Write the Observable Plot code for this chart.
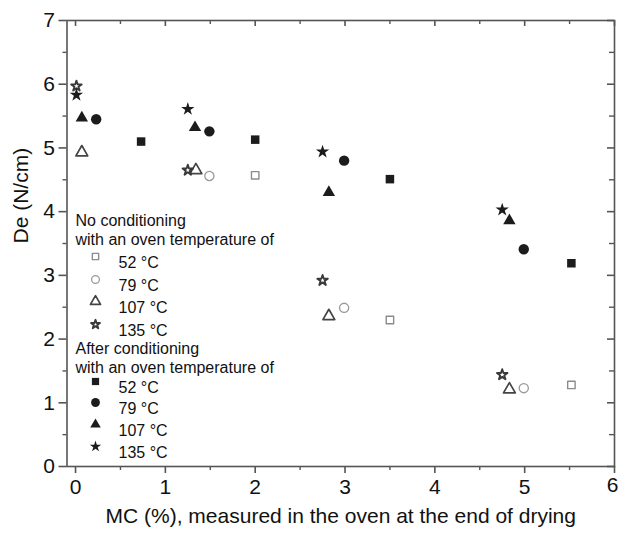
<!DOCTYPE html>
<html>
<head>
<meta charset="utf-8">
<script src="https://cdn.jsdelivr.net/npm/d3@7"></script>
<script src="https://cdn.jsdelivr.net/npm/@observablehq/plot@0.6"></script>
<style>
  html, body { margin: 0; padding: 0; background: #fff; }
  #chart svg { display: block; }
</style>
</head>
<body>
<div id="chart"></div>
<script>
// ---- Data ----
const temperatures = ["52 °C", "79 °C", "107 °C", "135 °C"];

// No conditioning (open markers)
const mcNo52 = [2.00, 3.50, 5.52];        const deNo52 = [4.57, 2.30, 1.28];
const mcNo79 = [1.49, 2.99, 4.99];        const deNo79 = [4.56, 2.49, 1.23];
const mcNo107 = [0.07, 1.34, 2.82, 4.83]; const deNo107 = [4.93, 4.65, 2.36, 1.21];
const mcNo135 = [0.01, 1.25, 2.75, 4.75]; const deNo135 = [5.97, 4.65, 2.92, 1.44];

// After conditioning (filled markers)
const mcAf52 = [0.73, 2.00, 3.50, 5.52];  const deAf52 = [5.10, 5.13, 4.51, 3.19];
const mcAf79 = [0.23, 1.49, 2.99, 4.99];  const deAf79 = [5.45, 5.26, 4.80, 3.41];
const mcAf107 = [0.07, 1.33, 2.82, 4.83]; const deAf107 = [5.47, 5.32, 4.30, 3.86];
const mcAf135 = [0.01, 1.25, 2.75, 4.75]; const deAf135 = [5.83, 5.61, 4.94, 4.03];

const xTicks = [0, 1, 2, 3, 4, 5, 6];
const xMinor = [0.5, 1.5, 2.5, 3.5, 4.5, 5.5];
const yTicks = [0, 1, 2, 3, 4, 5, 6, 7];
const yMinor = [0.5, 1.5, 2.5, 3.5, 4.5, 5.5, 6.5];

const xLabel = "MC (%), measured in the oven at the end of drying";
const yLabel = "De (N/cm)";
const legendHeadA = ["No conditioning", "with an oven temperature of"];
const legendHeadB = ["After conditioning", "with an oven temperature of"];

// ---- Build series ----
const zip = (xs, ys) => xs.map((x, i) => ({x, y: ys[i]}));
const openSeries = [zip(mcNo52, deNo52), zip(mcNo79, deNo79), zip(mcNo107, deNo107), zip(mcNo135, deNo135)];
const filledSeries = [zip(mcAf52, deAf52), zip(mcAf79, deAf79), zip(mcAf107, deAf107), zip(mcAf135, deAf135)];

// ---- Styles ----
const symbols = ["square", "circle", "triangle", "star"];
const openStyle = [
  {stroke: "#8c8c8c", r: 4.2, strokeWidth: 1.4},
  {stroke: "#9a9a9a", r: 4.6, strokeWidth: 1.3},
  {stroke: "#444", r: 4.4, strokeWidth: 1.7},
  {stroke: "#3a3a3a", r: 3.3, strokeWidth: 1.9}
];
const filledStyle = [
  {r: 4.8}, {r: 5.2}, {r: 4.6}, {r: 4.2}
];
const ink = "#1c1c1c";
const axisInk = "#555";

const W = 618, H = 534;
const mL = 66.5, mR = 4, mT = 20, mB = 68;
const plotW = W - mL - mR, plotH = H - mT - mB;

const marks = [];

// frame
marks.push(Plot.frame({stroke: axisInk, strokeWidth: 1.6}));

// mirror (inward) ticks on top and right
marks.push(Plot.ruleX(xTicks, {x: d => d, insetBottom: plotH - 6, stroke: axisInk, strokeWidth: 1.6}));
marks.push(Plot.ruleX(xMinor, {x: d => d, insetBottom: plotH - 4, stroke: axisInk, strokeWidth: 1.4}));
marks.push(Plot.ruleY(yTicks, {y: d => d, insetLeft: plotW - 7, stroke: axisInk, strokeWidth: 1.6}));
marks.push(Plot.ruleY(yMinor, {y: d => d, insetLeft: plotW - 5, stroke: axisInk, strokeWidth: 1.4}));

// bottom axis (last label drawn separately so it stays inside the picture)
const lastX = xTicks[xTicks.length - 1];
marks.push(Plot.axisX({ticks: xTicks, tickSize: 7, tickPadding: 6, fontSize: 21, stroke: axisInk, strokeWidth: 1.6,
  tickFormat: d => d === lastX ? "" : String(d), label: null}));
marks.push(Plot.text([lastX], {x: d => d, text: d => String(d), frameAnchor: "bottom", dy: 25, textAnchor: "end", dx: 4,
  fontSize: 21, fill: "#111"}));
marks.push(Plot.axisX({ticks: xMinor, tickSize: 4, text: null, label: null, stroke: axisInk, strokeWidth: 1.4}));
// left axis
marks.push(Plot.axisY({ticks: yTicks, tickSize: 8, tickPadding: 4, fontSize: 21, stroke: axisInk, strokeWidth: 1.6,
  tickFormat: d => String(d), label: null}));
marks.push(Plot.axisY({ticks: yMinor, tickSize: 4, text: null, label: null, stroke: axisInk, strokeWidth: 1.4}));

// axis titles
marks.push(Plot.text([xLabel], {text: d => d, frameAnchor: "bottom", dy: 56, fontSize: 21, fill: "#111"}));
marks.push(Plot.text([yLabel], {text: d => d, frameAnchor: "left", dx: -46, rotate: -90, fontSize: 21, fill: "#111"}));

// data
openSeries.forEach((s, i) => {
  marks.push(Plot.dot(s, {x: "x", y: "y", symbol: () => symbols[i], fill: "white", strokeLinejoin: "round", ...openStyle[i]}));
});
filledSeries.forEach((s, i) => {
  marks.push(Plot.dot(s, {x: "x", y: "y", symbol: () => symbols[i], fill: ink, stroke: "none", ...filledStyle[i]}));
});

// legend (inside the frame, top-left anchored offsets)
const headX = 8.5, symX = 28.5, labX = 51.5;
const rowsA = [214, 233], itemsA = [256, 279, 301, 324];
const rowsB = [342, 361], itemsB = [381, 402, 424, 446];
const legendText = (txt, dx, dy) => Plot.text([txt], {text: d => d, frameAnchor: "top-left", dx, dy: dy - mT,
  textAnchor: "start", fontSize: 16, fill: "#111"});
legendHeadA.forEach((t, i) => marks.push(legendText(t, headX, rowsA[i])));
legendHeadB.forEach((t, i) => marks.push(legendText(t, headX, rowsB[i])));
temperatures.forEach((t, i) => {
  marks.push(Plot.dot([0], {frameAnchor: "top-left", dx: symX, dy: itemsA[i] - mT, symbol: () => symbols[i],
    fill: "white", strokeLinejoin: "round", ...openStyle[i], r: openStyle[i].r * 0.85}));
  marks.push(legendText(t, labX, itemsA[i]));
  marks.push(Plot.dot([0], {frameAnchor: "top-left", dx: symX, dy: itemsB[i] - mT, symbol: () => symbols[i],
    fill: ink, stroke: "none", r: filledStyle[i].r * 0.85}));
  marks.push(legendText(t, labX, itemsB[i]));
});

const chart = Plot.plot({
  width: W, height: H,
  marginLeft: mL, marginRight: mR, marginTop: mT, marginBottom: mB,
  style: {fontFamily: "'Liberation Sans', Arial, sans-serif", fontSize: "18px", color: "#111", background: "white"},
  x: {domain: [-0.095, 6]},
  y: {domain: [0, 7]},
  symbol: {type: "identity"},
  marks
});
document.getElementById("chart").appendChild(chart);
</script>
</body>
</html>
